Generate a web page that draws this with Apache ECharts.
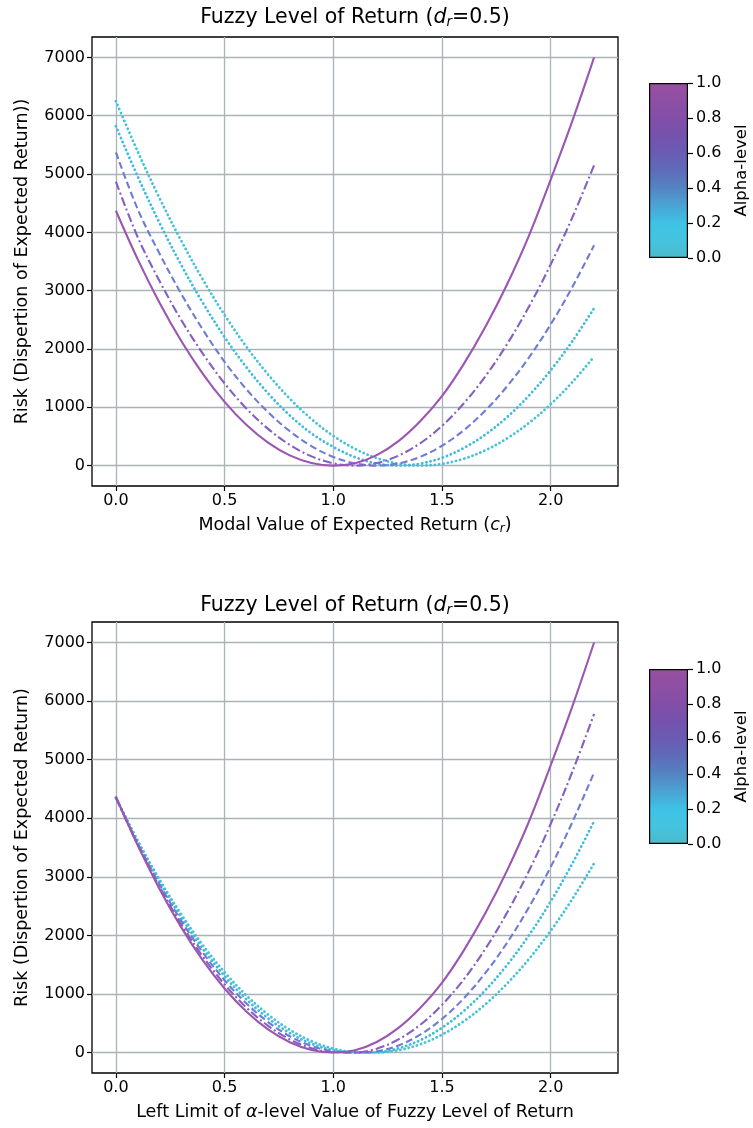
<!DOCTYPE html>
<html>
<head>
<meta charset="utf-8">
<script src="https://cdn.jsdelivr.net/npm/echarts@6/dist/echarts.min.js"></script>
<style>
html,body{margin:0;padding:0;background:#ffffff;}
#chart{width:753px;height:1128px;}
</style>
</head>
<body>
<div id="chart"></div>
<script>
// ---------- data ----------
const xValues = [0.0,0.1,0.2,0.3,0.4,0.5,0.6,0.7,0.8,0.9,1.0,1.1,1.2,1.3,1.4,1.5,1.6,1.7,1.8,1.9,2.0,2.1,2.2];
const xTicks = [0.0,0.5,1.0,1.5,2.0];
const yTicks = [0,1000,2000,3000,4000,5000,6000,7000];
const alphaTicks = [0.0,0.2,0.4,0.6,0.8,1.0];

// top panel: x = modal value c_r
const topAlpha10 = [4370,3540,2797,2141,1573,1093,699,393,175,44,0,40,180,420,760,1190,1740,2380,3110,3940,4900,5910,7000];
const topAlpha08 = [4870,3920,3170,2500,1920,1410,980,630,355,158,40,0,43,170,383,681,1064,1532,2085,2724,3447,4256,5150];
const topAlpha06 = [5370,4400,3640,2950,2330,1780,1310,915,590,333,148,37,0,38,151,340,605,945,1361,1852,2419,3062,3780];
const topAlpha04 = [5820,4960,4167,3444,2790,2204,1688,1240,861,551,320,145,34,0,33,133,300,533,833,1200,1633,2133,2700];
const topAlpha02 = [6250,5389,4592,3859,3189,2583,2041,1563,1148,797,510,287,128,32,0,29,117,263,468,731,1052,1432,1870];

// bottom panel: x = left limit of alpha-level value
const botAlpha10 = [4370,3540,2797,2141,1573,1093,699,393,175,44,0,40,180,420,760,1190,1740,2380,3110,3940,4900,5910,7000];
const botAlpha08 = [4350,3550,2831,2194,1637,1162,768,456,224,74,5,2,66,223,472,813,1246,1771,2389,3098,3900,4794,5780];
const botAlpha06 = [4350,3574,2875,2252,1705,1234,839,520,277,110,19,0,20,121,305,572,923,1358,1876,2478,3164,3933,4780];
const botAlpha04 = [4350,3599,2918,2309,1771,1304,909,584,331,150,39,0,6,72,210,422,707,1065,1496,2000,2577,3227,3950];
const botAlpha02 = [4350,3620,2957,2362,1833,1371,976,648,387,193,66,5,0,38,140,304,532,823,1178,1595,2077,2621,3229];

// ---------- styling ----------
const FONT = 'DejaVu Sans';
const colAlpha10 = '#9b56b2';
const colAlpha08 = '#8460bf';
const colAlpha06 = '#6f7cd2';
const colAlpha04 = '#3fbcdc';
const colAlpha02 = '#46c2d6';
const gridColor = '#a9b3b8';
const cbStops = [
  {offset:0.00, color:'#98509f'},
  {offset:0.10, color:'#8e4fa5'},
  {offset:0.20, color:'#834ea8'},
  {offset:0.30, color:'#7552ad'},
  {offset:0.40, color:'#6a5cb2'},
  {offset:0.50, color:'#5e6cb8'},
  {offset:0.60, color:'#5484c2'},
  {offset:0.70, color:'#4aa3d3'},
  {offset:0.80, color:'#3ec2e5'},
  {offset:0.90, color:'#45c4df'},
  {offset:1.00, color:'#4dbacb'}
];

const TICK_FS = 16;
const NAME_FS = 17.5;
const TITLE_FS = 20.5;

const chart = echarts.init(document.getElementById('chart'), null, {renderer:'canvas'});

const richBase = {
  n:{fontFamily:FONT, fontSize:NAME_FS, color:'#000'},
  i:{fontFamily:FONT, fontSize:NAME_FS, fontStyle:'italic', color:'#000'},
  s:{fontFamily:FONT, fontSize:12, fontStyle:'italic', color:'#000', verticalAlign:'bottom', padding:[7,0,0,0]}
};
const richTitle = {
  n:{fontFamily:FONT, fontSize:TITLE_FS, color:'#000'},
  i:{fontFamily:FONT, fontSize:TITLE_FS, fontStyle:'italic', color:'#000'},
  s:{fontFamily:FONT, fontSize:13.5, fontStyle:'italic', color:'#000', verticalAlign:'bottom', padding:[8,0,0,0]}
};

function mainX(gi, name) {
  return {
    gridIndex: gi, type:'value', min:-0.11, max:2.31,
    axisLine:{show:false, onZero:false},
    axisTick:{show:true, inside:false, length:5, customValues:xTicks, lineStyle:{color:'#000', width:1.2}},
    axisLabel:{customValues:xTicks, formatter:v=>v.toFixed(1), fontFamily:FONT, fontSize:TICK_FS, color:'#000', margin:7},
    splitLine:{show:true, lineStyle:{color:gridColor, width:1.3}},
    name:name, nameLocation:'middle', nameGap:30,
    nameTextStyle:{rich:richBase, fontFamily:FONT, fontSize:NAME_FS, color:'#000'}
  };
}
function mainY(gi, name) {
  return {
    gridIndex: gi, type:'value', min:-350, max:7350,
    axisLine:{show:false, onZero:false},
    axisTick:{show:true, inside:false, length:5, customValues:yTicks, lineStyle:{color:'#000', width:1.2}},
    axisLabel:{customValues:yTicks, formatter:v=>String(v), fontFamily:FONT, fontSize:TICK_FS, color:'#000', margin:7},
    splitLine:{show:true, lineStyle:{color:gridColor, width:1.3}},
    name:name, nameLocation:'middle', nameGap:61,
    nameTextStyle:{fontFamily:FONT, fontSize:NAME_FS, color:'#000'}
  };
}
function cbY(gi) {
  return {
    gridIndex: gi, type:'value', min:0, max:1, interval:0.2, position:'right',
    axisLine:{show:false, onZero:false},
    axisTick:{show:true, inside:false, length:5, lineStyle:{color:'#000', width:1.2}},
    axisLabel:{formatter:v=>v.toFixed(1), fontFamily:FONT, fontSize:TICK_FS, color:'#000', margin:8},
    splitLine:{show:false},
    name:'Alpha-level', nameLocation:'middle', nameRotate:90, nameGap:45,
    nameTextStyle:{fontFamily:FONT, fontSize:16.5, color:'#000'}
  };
}
function cbX(gi) {
  return {gridIndex:gi, type:'category', data:['alpha'], show:false, boundaryGap:true};
}

function curve(gi, values, color, kind) {
  const ls = {color:color, width:2.1};
  if (kind === 'dashdot') ls.type = [9,3,2,3];
  else if (kind === 'dashed') ls.type = [7,3.5];
  else if (kind === 'dotted') { ls.type = [0.1,4.2]; ls.cap = 'round'; ls.width = 2.8; }
  else ls.type = 'solid';
  return {
    type:'line', xAxisIndex:gi, yAxisIndex:gi,
    data: xValues.map((x,i)=>[x, values[i]]),
    smooth:0.35, showSymbol:false, silent:true,
    lineStyle:ls, z:3
  };
}
function colorbar(gi) {
  return {
    type:'bar', xAxisIndex:gi, yAxisIndex:gi, data:[1], barWidth:'100%', silent:true,
    itemStyle:{color:new echarts.graphic.LinearGradient(0,0,0,1,cbStops), borderColor:'#000', borderWidth:1.2}
  };
}

const titleText = '{n|Fuzzy Level of Return (}{i|d}{s|r}{n|=0.5)}';

const option = {
  backgroundColor:'#ffffff',
  animation:false,
  grid:[
    {left:92, top:37, width:526, height:449, show:true, borderColor:'#000', borderWidth:1.3, backgroundColor:'transparent', containLabel:false},
    {left:92, top:622, width:526, height:451, show:true, borderColor:'#000', borderWidth:1.3, backgroundColor:'transparent', containLabel:false},
    {left:649, top:83, width:39, height:175, containLabel:false},
    {left:649, top:669, width:39, height:175, containLabel:false}
  ],
  xAxis:[
    mainX(0, '{n|Modal Value of Expected Return (}{i|c}{s|r}{n|)}'),
    mainX(1, '{n|Left Limit of }{i|α}{n|-level Value of Fuzzy Level of Return}'),
    cbX(2), cbX(3)
  ],
  yAxis:[
    mainY(0, 'Risk (Dispertion of Expected Return))'),
    mainY(1, 'Risk (Dispertion of Expected Return)'),
    cbY(2), cbY(3)
  ],
  graphic:[
    {type:'text', x:355, y:18, silent:true,
     style:{text:titleText, rich:richTitle, align:'center', verticalAlign:'middle'}},
    {type:'text', x:355, y:606, silent:true,
     style:{text:titleText, rich:richTitle, align:'center', verticalAlign:'middle'}}
  ],
  series:[
    curve(0, topAlpha02, colAlpha02, 'dotted'),
    curve(0, topAlpha04, colAlpha04, 'dotted'),
    curve(0, topAlpha06, colAlpha06, 'dashed'),
    curve(0, topAlpha08, colAlpha08, 'dashdot'),
    curve(0, topAlpha10, colAlpha10, 'solid'),
    curve(1, botAlpha02, colAlpha02, 'dotted'),
    curve(1, botAlpha04, colAlpha04, 'dotted'),
    curve(1, botAlpha06, colAlpha06, 'dashed'),
    curve(1, botAlpha08, colAlpha08, 'dashdot'),
    curve(1, botAlpha10, colAlpha10, 'solid'),
    colorbar(2), colorbar(3)
  ]
};
chart.setOption(option);
</script>
</body>
</html>
